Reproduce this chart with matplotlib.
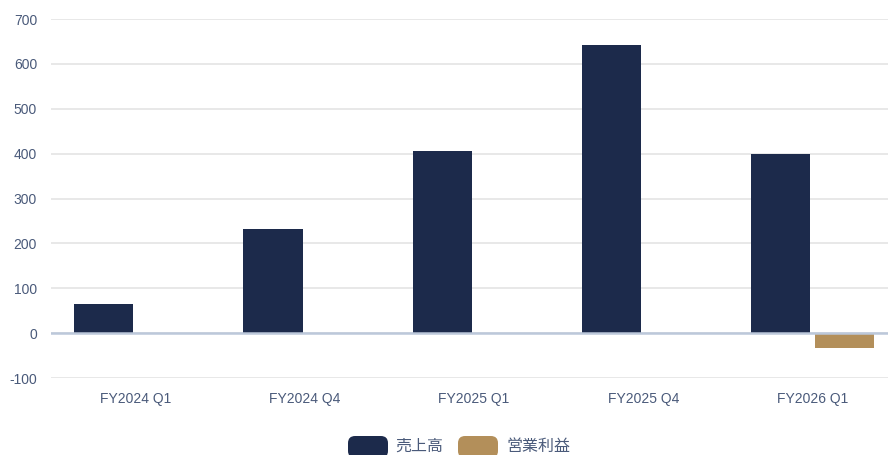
import numpy as np
import matplotlib
matplotlib.use('Agg')
import matplotlib.pyplot as plt
from matplotlib.patches import FancyBboxPatch

plt.rcParams['font.family'] = ['Liberation Sans', 'Noto Sans CJK JP', 'DejaVu Sans']
plt.rcParams['axes.unicode_minus'] = False

quarters = ['FY2024 Q1', 'FY2024 Q4', 'FY2025 Q1', 'FY2025 Q4', 'FY2026 Q1']
sales = [64, 233, 406, 641, 399]
op_profit = [np.nan, np.nan, np.nan, np.nan, -33]
series_names = ['売上高', '営業利益']
colors = ['#1c2a4b', '#b38f5a']
text_color = '#4a5a7a'

fig = plt.figure(figsize=(8.88, 4.55), dpi=100)
ax = fig.add_axes([51 / 888, 77 / 455, 837 / 888, 359 / 455])

x = np.arange(len(quarters))
w = 0.35
ax.bar(x - 0.189, sales, width=w, color=colors[0], zorder=3)
ax.bar(x + 0.189, op_profit, width=w, color=colors[1], zorder=3)

ax.set_xlim(-0.5, -0.5 + 837 / 169.25)
ax.set_ylim(-100, 700)
ax.set_yticks(range(-100, 701, 100))
ax.set_xticks(x)
ax.set_xticklabels(quarters)
ax.tick_params(axis='both', length=0, labelsize=10, colors=text_color)
ax.tick_params(axis='x', pad=10)
ax.tick_params(axis='y', pad=10)
ax.grid(axis='y', color='#e6e6e6', linewidth=1.3, zorder=0)
ax.axhline(0, color='#bcc8da', linewidth=1.8, zorder=4)
for s in ax.spines.values():
    s.set_visible(False)

# legend at the bottom, rounded swatches
legend_items = [(348, 395, series_names[0], colors[0]),
                (458, 506, series_names[1], colors[1])]
H = 455
for bx, tx, label, c in legend_items:
    fig.patches.append(FancyBboxPatch((bx / 888, (H - 458) / H), 40 / 888, 22 / H,
                                      boxstyle='round,pad=0,rounding_size=0.008',
                                      transform=fig.transFigure, facecolor=c,
                                      edgecolor='none', mutation_aspect=888 / 455))
    fig.text(tx / 888, (H - 446) / H, label, fontsize=11.5, color=text_color,
             va='center', ha='left')

fig.savefig('out.png', dpi=100)
